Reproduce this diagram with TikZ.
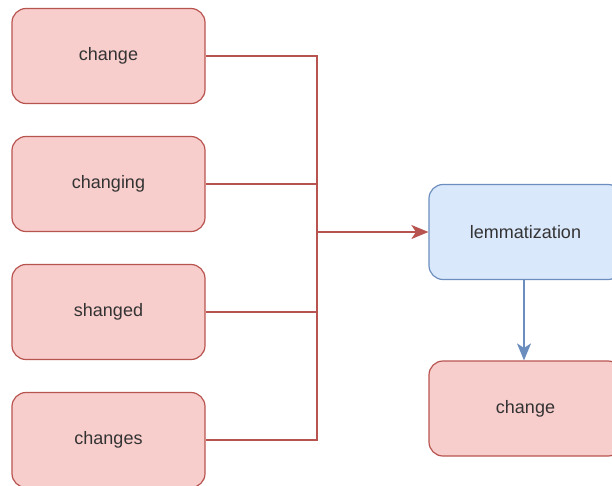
\documentclass[tikz,border=0pt]{standalone}
\usepackage{fontspec}
\setmainfont{Liberation Sans}
\usetikzlibrary{arrows.meta}
\definecolor{redfill}{HTML}{F8CECC}
\definecolor{redline}{HTML}{B85450}
\definecolor{bluefill}{HTML}{DAE8FC}
\definecolor{blueline}{HTML}{6C8EBF}
\definecolor{txt}{HTML}{333333}
\tikzset{
  box/.style={rounded corners=14pt, minimum width=193pt, minimum height=95pt,
    line width=1.2pt, inner sep=0pt, text=txt,
    font=\fontsize{18}{22}\selectfont},
  redbox/.style={box, draw=redline, fill=redfill},
  bluebox/.style={box, draw=blueline, fill=bluefill},
  redwire/.style={draw=redline, line width=1.8pt},
  bluewire/.style={draw=blueline, line width=1.6pt},
  tip/.style={-{Stealth[length=17pt,width=14pt,inset=4.5pt]}}
}
\begin{document}
\begin{tikzpicture}[x=1pt,y=-1pt]
  \useasboundingbox (0,0) rectangle (612,485);
  \clip (0,0) rectangle (612,485);
  % input word forms
  \node[redbox] (w1) at (108.5,56) {change};
  \node[redbox] (w2) at (108.5,184) {changing};
  \node[redbox] (w3) at (108.5,312) {shanged};
  \node[redbox] (w4) at (108.5,440) {changes};
  % processing step and result
  \node[bluebox] (lem) at (525.5,232) {lemmatization};
  \node[redbox] (out) at (525.5,408.5) {change};
  % merge bus
  \coordinate (b1) at (317,56);
  \coordinate (b2) at (317,184);
  \coordinate (b3) at (317,312);
  \coordinate (b4) at (317,440);
  \coordinate (bus) at (317,232);
  \draw[redwire] (w1.east) -- (b1);
  \draw[redwire] (w2.east) -- (b2);
  \draw[redwire] (w3.east) -- (b3);
  \draw[redwire] (w4.east) -- (b4);
  \draw[redwire, line cap=rect] (b1) -- (b4);
  \draw[redwire, tip] (bus) -- (lem.west);
  \draw[bluewire, tip] (lem.south -| 524,0) -- (out.north -| 524,0);
\end{tikzpicture}
\end{document}
